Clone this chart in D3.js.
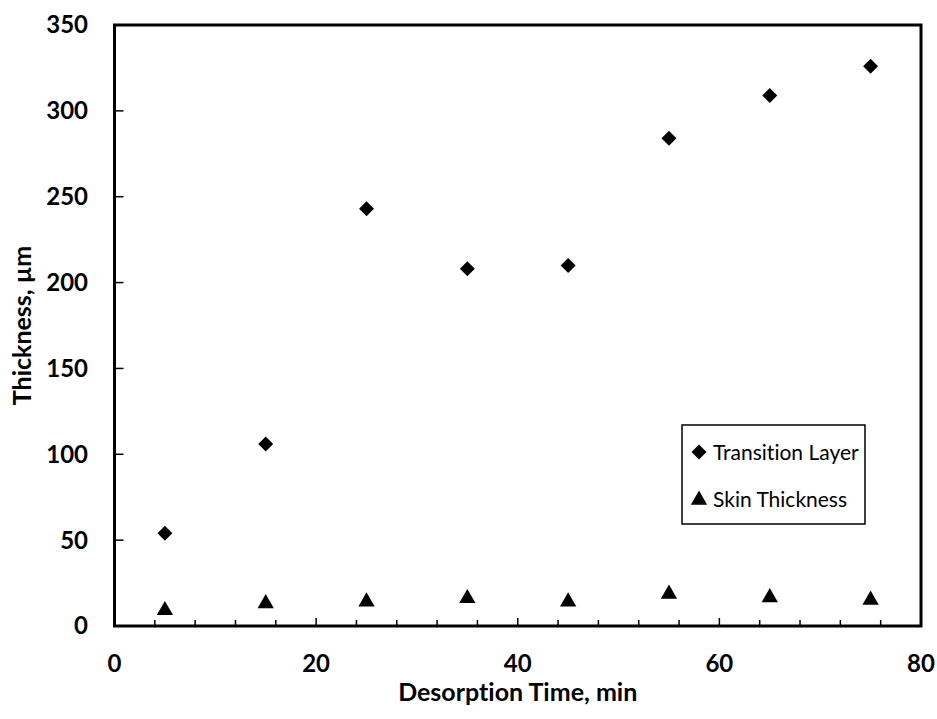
<!DOCTYPE html>
<html>
<head>
<meta charset="utf-8">
<script src="https://cdn.jsdelivr.net/npm/d3@7"></script>
<style>
  body { margin: 0; background: #fff; }
  text { font-family: Lato, "Open Sans", sans-serif; fill: #000; font-variant-ligatures: none; }
</style>
</head>
<body>
<script>
// desorption time, min
var times = [5, 15, 25, 35, 45, 55, 65, 75];
var transitionLayer = [54, 106, 243, 208, 210, 284, 309, 326];
var skinThickness = [10, 14, 15, 17, 15, 19.5, 17.5, 16];
var xTicks = [0, 20, 40, 60, 80];
var xMinorTicks = d3.range(0, 81, 4);
var yTicks = [0, 50, 100, 150, 200, 250, 300, 350];
var seriesNames = ["Transition Layer", "Skin Thickness"];

var width = 937, height = 719;
var plotLeft = 114.5, plotRight = 921, plotTop = 25, plotBottom = 626;

var svg = d3.select("body").append("svg")
  .attr("width", width)
  .attr("height", height);

var x = d3.scaleLinear().domain([0, 80]).range([plotLeft, plotRight]);
var y = d3.scaleLinear().domain([0, 350]).range([plotBottom, plotTop]);

// minor ticks on x (inside)
svg.append("g").selectAll("line")
  .data(xMinorTicks.filter(function(d){ return d % 20 !== 0; }))
  .enter().append("line")
  .attr("x1", function(d){ return x(d); })
  .attr("x2", function(d){ return x(d); })
  .attr("y1", plotBottom)
  .attr("y2", plotBottom - 6)
  .attr("stroke", "#000").attr("stroke-width", 1.5);

// major x ticks
svg.append("g").selectAll("line")
  .data(xTicks)
  .enter().append("line")
  .attr("x1", function(d){ return x(d); })
  .attr("x2", function(d){ return x(d); })
  .attr("y1", plotBottom)
  .attr("y2", plotBottom - 8)
  .attr("stroke", "#000").attr("stroke-width", 1.5);

// y ticks
svg.append("g").selectAll("line")
  .data(yTicks)
  .enter().append("line")
  .attr("x1", plotLeft)
  .attr("x2", plotLeft + 9)
  .attr("y1", function(d){ return y(d); })
  .attr("y2", function(d){ return y(d); })
  .attr("stroke", "#000").attr("stroke-width", 1.5);

// plot frame
svg.append("rect")
  .attr("x", plotLeft).attr("y", plotTop)
  .attr("width", plotRight - plotLeft).attr("height", plotBottom - plotTop)
  .attr("fill", "none").attr("stroke", "#000").attr("stroke-width", 3);

// tick labels
svg.append("g").selectAll("text")
  .data(xTicks)
  .enter().append("text")
  .attr("x", function(d){ return x(d); })
  .attr("y", plotBottom + 46)
  .attr("text-anchor", "middle")
  .style("font-size", "24px").style("font-weight", "bold")
  .text(function(d){ return d; });

svg.append("g").selectAll("text")
  .data(yTicks)
  .enter().append("text")
  .attr("x", 88)
  .attr("y", function(d){ return y(d); })
  .attr("dy", "0.35em")
  .attr("text-anchor", "end")
  .style("font-size", "24px").style("font-weight", "bold")
  .text(function(d){ return d; });

// axis titles
svg.append("text")
  .attr("x", (plotLeft + plotRight) / 2)
  .attr("y", 701)
  .attr("text-anchor", "middle")
  .style("font-size", "25px").style("font-weight", "bold")
  .text("Desorption Time, min");

svg.append("text")
  .attr("transform", "translate(31," + ((plotTop + plotBottom) / 2) + ") rotate(-90)")
  .attr("text-anchor", "middle")
  .style("font-size", "25px").style("font-weight", "bold")
  .text("Thickness, µm");

var diamond = d3.symbol().type(d3.symbolSquare).size(112);
var triangle = d3.symbol().type(d3.symbolTriangle).size(115);

// transition layer points
svg.append("g").selectAll("path")
  .data(times)
  .enter().append("path")
  .attr("d", diamond)
  .attr("transform", function(d, i){ return "translate(" + x(d) + "," + y(transitionLayer[i]) + ") rotate(45)"; })
  .attr("fill", "#000");

// skin thickness points
svg.append("g").selectAll("path")
  .data(times)
  .enter().append("path")
  .attr("d", triangle)
  .attr("transform", function(d, i){ return "translate(" + x(d) + "," + (y(skinThickness[i]) + 1.5) + ")"; })
  .attr("fill", "#000");

// legend
var lg = svg.append("g");
lg.append("rect")
  .attr("x", 682).attr("y", 425)
  .attr("width", 183).attr("height", 99)
  .attr("fill", "#fff").attr("stroke", "#000").attr("stroke-width", 1.5);

lg.append("path").attr("d", diamond)
  .attr("transform", "translate(699,452) rotate(45)").attr("fill", "#000");
lg.append("path").attr("d", triangle)
  .attr("transform", "translate(699,500)").attr("fill", "#000");

lg.selectAll("text.leg")
  .data(seriesNames)
  .enter().append("text")
  .attr("class", "leg")
  .attr("x", 713)
  .attr("y", function(d, i){ return 460 + i * 47; })
  .style("font-size", "21px")
  .text(function(d){ return d; });
</script>
</body>
</html>
